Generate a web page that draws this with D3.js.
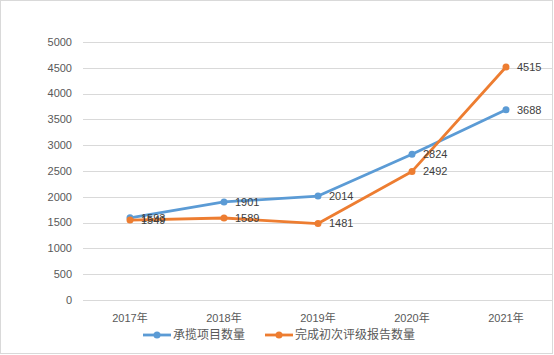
<!DOCTYPE html>
<html><head><meta charset="utf-8">
<script src="https://cdn.jsdelivr.net/npm/d3@7"></script>
<style>body{margin:0;background:#fff}svg{display:block}</style>
</head><body>
<script>
const categories = ["2017年","2018年","2019年","2020年","2021年"];
const seriesNames = ["承揽项目数量","完成初次评级报告数量"];
const projects = [1593,1901,2014,2824,3688];
const reports = [1549,1589,1481,2492,4515];
const yTicks = [0,500,1000,1500,2000,2500,3000,3500,4000,4500,5000];
const colors = ["#5B9BD5","#ED7D31"];

const W=554,H=355;
const svg=d3.select("body").append("svg").attr("width",W).attr("height",H);
svg.append("rect").attr("x",0.5).attr("y",0.5).attr("width",W-2).attr("height",H-2).attr("fill","#fff").attr("stroke","#D9D9D9");
const font="'Liberation Sans', 'Noto Sans CJK SC', sans-serif";
const x=d3.scaleBand().domain(categories).range([83,553]);
const y=d3.scaleLinear().domain([0,5000]).range([300,42]);

svg.append("g").selectAll("line").data(yTicks).join("line")
  .attr("x1",83).attr("x2",552).attr("y1",d=>Math.round(y(d))+0.5).attr("y2",d=>Math.round(y(d))+0.5)
  .attr("stroke","#D9D9D9").attr("stroke-width",1);
svg.append("g").selectAll("text").data(yTicks).join("text")
  .attr("x",72).attr("y",d=>y(d)).attr("dy","0.35em").attr("text-anchor","end")
  .attr("font-family",font).attr("font-size",11).attr("fill","#595959").text(d=>d);
svg.append("g").selectAll("text").data(categories).join("text")
  .attr("x",d=>x(d)+x.bandwidth()/2).attr("y",318).attr("dy","0.35em").attr("text-anchor","middle")
  .attr("font-family",font).attr("font-size",11).attr("fill","#595959").text(d=>d);

const series=[projects,reports];
const line=d3.line().x((d,i)=>x(categories[i])+x.bandwidth()/2).y(d=>y(d));
series.forEach((s,k)=>{
  svg.append("path").datum(s).attr("d",line).attr("fill","none").attr("stroke",colors[k]).attr("stroke-width",2.8).attr("stroke-linejoin","round");
  svg.append("g").selectAll("circle").data(s).join("circle")
    .attr("cx",(d,i)=>x(categories[i])+x.bandwidth()/2).attr("cy",d=>y(d)).attr("r",3.5).attr("fill",colors[k]);
});
series.forEach((s,k)=>{
  svg.append("g").selectAll("text").data(s).join("text")
    .attr("x",(d,i)=>x(categories[i])+x.bandwidth()/2+11).attr("y",d=>y(d)).attr("dy","0.35em")
    .attr("font-family",font).attr("font-size",11).attr("fill","#404040").text(d=>d);
});

const legX=[143,265];
seriesNames.forEach((n,k)=>{
  const g=svg.append("g");
  g.append("line").attr("x1",legX[k]).attr("x2",legX[k]+28).attr("y1",335).attr("y2",335).attr("stroke",colors[k]).attr("stroke-width",2.8);
  g.append("circle").attr("cx",legX[k]+14).attr("cy",335).attr("r",3.5).attr("fill",colors[k]);
  g.append("text").attr("x",legX[k]+30).attr("y",335).attr("dy","0.35em").attr("font-family",font).attr("font-size",12).attr("fill","#595959").text(n);
});
</script>
</body></html>
